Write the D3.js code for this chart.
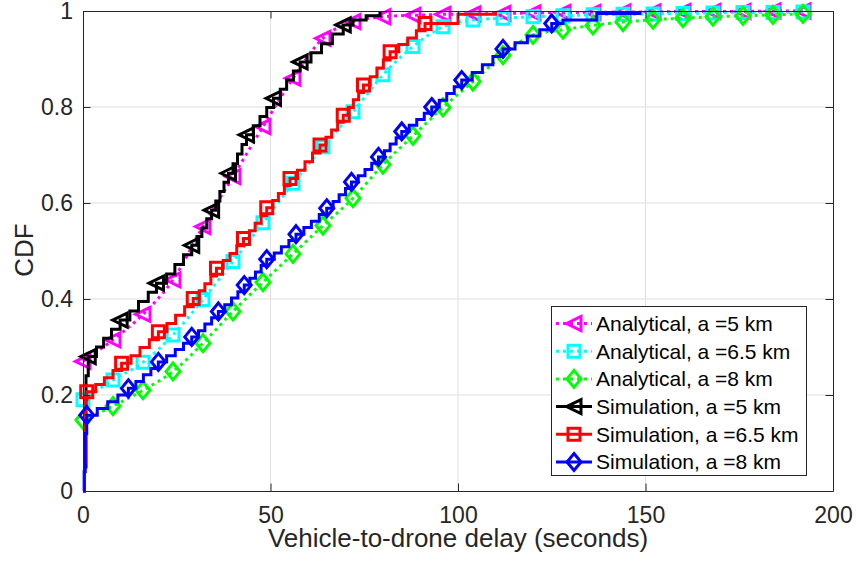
<!DOCTYPE html>
<html>
<head>
<meta charset="utf-8">
<script src="https://cdnjs.cloudflare.com/ajax/libs/d3/7.8.5/d3.min.js"></script>
<style>
  body { margin: 0; background: #fff; }
  text { font-family: "Liberation Sans", Arial, Helvetica, sans-serif; fill: #262626; }
</style>
</head>
<body>
<div id="cdf_viz"></div>
<script>
// analytical curves, sampled where the markers sit
var anaX = [0, 8, 16, 24, 32, 40, 48, 56, 64, 72, 80, 88, 96, 104, 112, 120, 128, 136, 144, 152, 160, 168, 176, 184, 192];
var ana5 = [0.27, 0.315, 0.368, 0.44, 0.551, 0.655, 0.759, 0.86, 0.943, 0.978, 0.988, 0.991, 0.993, 0.994, 0.995, 0.996, 0.997, 0.997, 0.998, 0.998, 0.999, 0.999, 0.999, 1.0, 1.0];
var ana65 = [0.19, 0.231, 0.268, 0.325, 0.399, 0.478, 0.559, 0.641, 0.717, 0.79, 0.867, 0.926, 0.967, 0.981, 0.985, 0.988, 0.99, 0.992, 0.993, 0.994, 0.995, 0.996, 0.997, 0.997, 0.998];
var ana8 = [0.148, 0.177, 0.21, 0.249, 0.308, 0.374, 0.435, 0.494, 0.553, 0.61, 0.68, 0.74, 0.799, 0.853, 0.908, 0.95, 0.961, 0.97, 0.977, 0.982, 0.985, 0.988, 0.99, 0.992, 0.994];

// simulated empirical CDFs (stair corners), a marker on every 4th corner
var sim5 = [[0,0],[0.4,0.05],[0.8,0.24],[1.4,0.28],
  [3.6,0.3],[5.5,0.318],[7.6,0.337],[9.9,0.356],
  [12.5,0.375],[14.8,0.395],[17.4,0.414],[19.6,0.433],
  [22.3,0.452],[24.5,0.472],[26.8,0.492],[29.0,0.512],
  [30.4,0.53],[31.7,0.548],[33.0,0.567],[34.3,0.585],
  [35.4,0.604],[36.5,0.624],[37.6,0.643],[38.8,0.662],
  [40.0,0.682],[41.2,0.702],[42.4,0.722],[43.6,0.742],
  [45.4,0.761],[47.2,0.78],[49.0,0.799],[50.8,0.818],
  [52.6,0.837],[54.3,0.856],[56.1,0.875],[57.9,0.894],
  [60.8,0.913],[63.6,0.932],[66.5,0.952],[69.4,0.971],
  [72.0,0.981],[75.5,0.99],[79.2,1.0]];
var sim65 = [[0,0],[0.4,0.06],[0.7,0.19],[1.0,0.207],
  [3.4,0.222],[5.7,0.236],[8.0,0.251],[10.3,0.266],
  [12.8,0.282],[15.2,0.299],[17.7,0.315],[20.1,0.332],
  [22.4,0.349],[24.7,0.366],[27.1,0.384],[29.4,0.401],
  [31.0,0.417],[32.5,0.432],[34.1,0.448],[35.6,0.464],
  [37.4,0.48],[39.2,0.495],[41.0,0.511],[42.8,0.526],
  [44.4,0.542],[45.9,0.558],[47.5,0.574],[49.0,0.59],
  [50.6,0.605],[52.1,0.62],[53.7,0.636],[55.2,0.651],
  [57.2,0.668],[59.2,0.686],[61.2,0.704],[63.2,0.721],
  [64.8,0.737],[66.3,0.752],[67.9,0.768],[69.4,0.783],
  [70.8,0.799],[72.1,0.815],[73.5,0.83],[74.8,0.846],
  [76.6,0.863],[78.4,0.881],[80.1,0.898],[81.9,0.915],
  [84.2,0.93],[86.6,0.944],[88.9,0.959],[91.2,0.974],
  [100,0.993],[110,1.0]];
var sim8 = [[0,0],[0.3,0.04],[0.6,0.12],[1.0,0.158],
  [3.8,0.172],[6.6,0.186],[9.3,0.2],[12.1,0.214],
  [14.1,0.228],[16.1,0.242],[18.1,0.255],[20.1,0.269],
  [22.3,0.282],[24.6,0.295],[26.8,0.308],[29.0,0.321],
  [30.8,0.334],[32.5,0.348],[34.3,0.361],[36.1,0.374],
  [37.8,0.388],[39.6,0.402],[41.3,0.415],[43.0,0.429],
  [44.5,0.443],[46.0,0.456],[47.5,0.47],[49.0,0.483],
  [51.0,0.496],[52.9,0.509],[54.9,0.522],[56.8,0.535],
  [58.9,0.549],[60.9,0.562],[63.0,0.576],[65.0,0.589],
  [66.7,0.603],[68.3,0.617],[70.0,0.63],[71.6,0.644],
  [73.4,0.657],[75.2,0.67],[77.0,0.683],[78.8,0.696],
  [80.4,0.709],[81.9,0.723],[83.5,0.736],[85.0,0.749],
  [87.0,0.762],[89.0,0.774],[91.0,0.787],[93.0,0.8],
  [95.0,0.814],[97.0,0.828],[99.0,0.842],[101.0,0.856],
  [103.8,0.872],[106.5,0.888],[109.3,0.905],[112.0,0.921],
  [115.2,0.934],[118.5,0.948],[121.8,0.961],[125.0,0.974],
  [128,0.981],[137,0.995],[148.5,1.0]];

var xTicks = [0, 50, 100, 150, 200];
var yTicks = [0, 0.2, 0.4, 0.6, 0.8, 1];
var legendLabels = ["Analytical, a =5 km", "Analytical, a =6.5 km", "Analytical, a =8 km",
                    "Simulation, a =5 km", "Simulation, a =6.5 km", "Simulation, a =8 km"];

var margin = {top: 11, right: 23, bottom: 76, left: 83},
    width = 856 - margin.left - margin.right,
    height = 567 - margin.top - margin.bottom;

var svg = d3.select("#cdf_viz")
  .append("svg")
    .attr("width", 856)
    .attr("height", 567)
  .append("g")
    .attr("transform", "translate(" + margin.left + "," + margin.top + ")");

var x = d3.scaleLinear().domain([0, 200]).range([0, width]);
var y = d3.scaleLinear().domain([0, 1]).range([height, 0]);

// marker shapes
var shapes = {
  tri: "M-7.5,0L7,-7L7,7Z",
  sq: "M-6,-6L6,-6L6,6L-6,6Z",
  dia: "M0,-8.5L7,0L0,8.5L-7,0Z"
};

var anaPts = function(vals) { return anaX.map(function(d, i) { return [d, vals[i]]; }); };
var everyMark = function(d, i) { return true; };
var simMark = function(d, i) { return i >= 3 && (i - 3) % 4 == 0; };

var series = [
  {pts: anaPts(ana5),  color: "#ff00ff", dash: "3,4", shape: "tri", step: false, mark: everyMark},
  {pts: anaPts(ana65), color: "#00ffff", dash: "3,4", shape: "sq",  step: false, mark: everyMark},
  {pts: anaPts(ana8),  color: "#00ff00", dash: "3,4", shape: "dia", step: false, mark: everyMark},
  {pts: sim5,  color: "#000000", dash: null, shape: "tri", step: true, mark: simMark},
  {pts: sim65, color: "#ff0000", dash: null, shape: "sq",  step: true, mark: simMark},
  {pts: sim8,  color: "#0000ff", dash: null, shape: "dia", step: true, mark: simMark}
];

// grid
svg.append("g").selectAll("line")
  .data(xTicks.slice(1, -1))
  .enter().append("line")
    .attr("x1", function(d) { return x(d); }).attr("x2", function(d) { return x(d); })
    .attr("y1", 0).attr("y2", height)
    .attr("stroke", "#dfdfdf").attr("stroke-width", 1);
svg.append("g").selectAll("line")
  .data(yTicks.slice(1, -1))
  .enter().append("line")
    .attr("y1", function(d) { return y(d); }).attr("y2", function(d) { return y(d); })
    .attr("x1", 0).attr("x2", width)
    .attr("stroke", "#dfdfdf").attr("stroke-width", 1);

// curves
series.forEach(function(s) {
  var line = d3.line()
    .x(function(d) { return x(d[0]); })
    .y(function(d) { return y(d[1]); })
    .curve(s.step ? d3.curveStepAfter : d3.curveMonotoneX);
  svg.append("path")
    .datum(s.pts)
    .attr("d", line)
    .attr("fill", "none")
    .attr("stroke", s.color)
    .attr("stroke-width", 3)
    .attr("stroke-dasharray", s.dash);
  svg.append("g").selectAll("path")
    .data(s.pts.filter(s.mark))
    .enter().append("path")
      .attr("d", shapes[s.shape])
      .attr("transform", function(d) { return "translate(" + x(d[0]) + "," + y(d[1]) + ")"; })
      .attr("fill", "none")
      .attr("stroke", s.color)
      .attr("stroke-width", 3);
});

// axes, ticks inside on all four sides
var styleAxis = function(g) {
  g.select(".domain").attr("stroke", "#262626");
  g.selectAll(".tick line").attr("stroke", "#262626");
  g.selectAll("text").style("font-size", "23px").attr("fill", "#262626");
};
svg.append("g")
  .attr("transform", "translate(0," + height + ")")
  .call(d3.axisBottom(x).tickValues(xTicks).tickSize(-7.5).tickSizeOuter(0).tickPadding(16))
  .call(styleAxis);
svg.append("g")
  .call(d3.axisLeft(y).tickValues(yTicks).tickSize(-7.5).tickSizeOuter(0).tickPadding(10)
    .tickFormat(function(d) { return String(d); }))
  .call(styleAxis);
svg.append("g")
  .call(d3.axisTop(x).tickValues(xTicks).tickSize(-7.5).tickSizeOuter(0).tickFormat(""))
  .call(styleAxis);
svg.append("g")
  .attr("transform", "translate(" + width + ",0)")
  .call(d3.axisRight(y).tickValues(yTicks).tickSize(-7.5).tickSizeOuter(0).tickFormat(""))
  .call(styleAxis);

// axis labels
svg.append("text")
  .attr("x", width / 2).attr("y", 536)
  .attr("text-anchor", "middle")
  .style("font-size", "26px")
  .text("Vehicle-to-drone delay (seconds)");
svg.append("text")
  .attr("transform", "translate(-50," + (height / 2 - 1) + ")rotate(-90)")
  .attr("text-anchor", "middle")
  .style("font-size", "26px")
  .text("CDF");

// legend
var legend = svg.append("g").attr("transform", "translate(468.5,295.5)");
legend.append("rect")
  .attr("width", 255).attr("height", 169)
  .attr("fill", "#fff").attr("stroke", "#262626").attr("stroke-width", 1);
var rows = legend.selectAll(".row")
  .data(series)
  .enter().append("g")
    .attr("class", "row")
    .attr("transform", function(d, i) { return "translate(0," + (17 + i * 27.7) + ")"; });
rows.append("line")
  .attr("x1", 4.5).attr("x2", 40.5)
  .attr("stroke", function(d) { return d.color; })
  .attr("stroke-width", 3)
  .attr("stroke-dasharray", function(d) { return d.dash; });
rows.append("path")
  .attr("d", function(d) { return shapes[d.shape]; })
  .attr("transform", "translate(22.5,0)")
  .attr("fill", "none")
  .attr("stroke", function(d) { return d.color; })
  .attr("stroke-width", 3);
rows.append("text")
  .attr("x", 44.5).attr("dy", "0.35em")
  .style("font-size", "21px")
  .attr("fill", "#000")
  .style("fill", "#000")
  .text(function(d, i) { return legendLabels[i]; });
</script>
</body>
</html>
